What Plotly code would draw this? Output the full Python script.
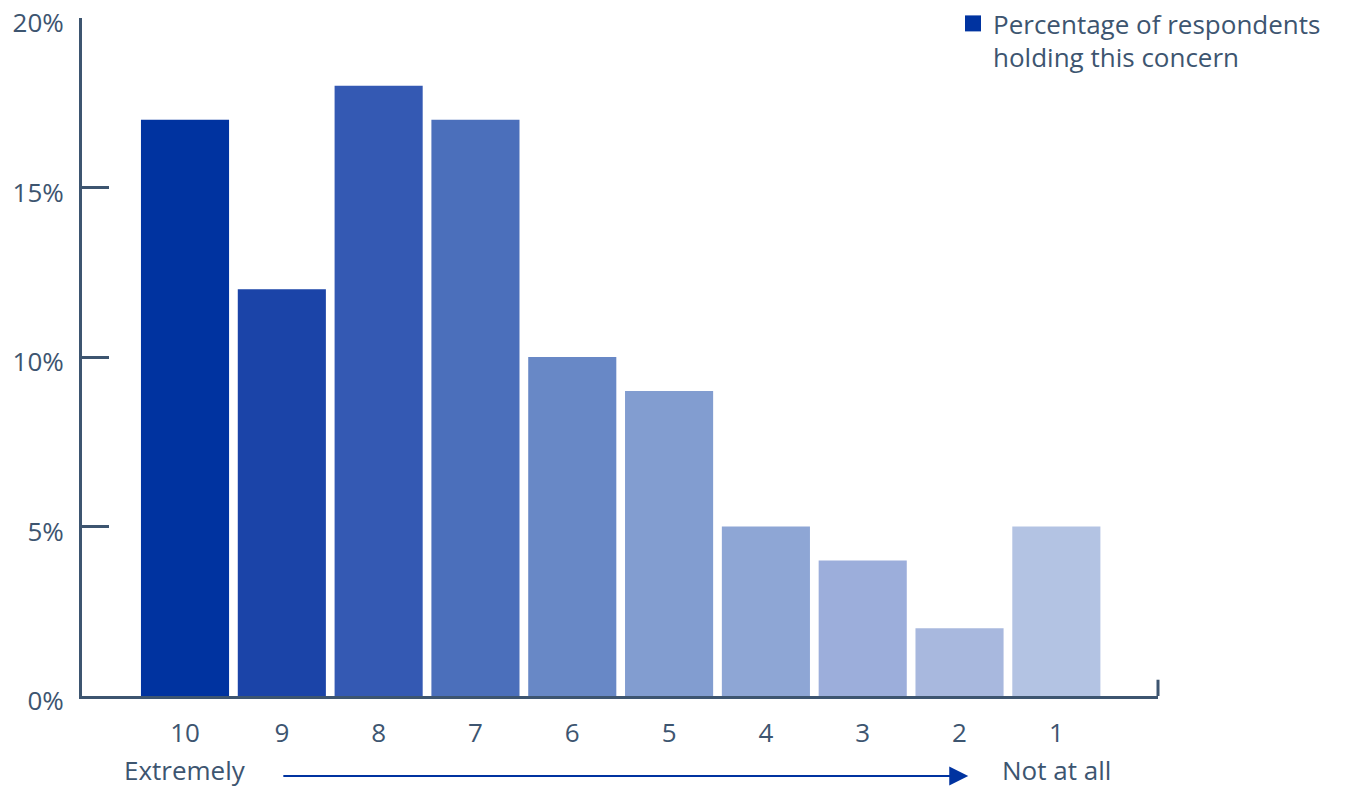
import plotly.graph_objects as go

# Concern scale, from 10 (extremely concerned) down to 1 (not at all)
categories = ["10", "9", "8", "7", "6", "5", "4", "3", "2", "1"]
percent = [17, 12, 18, 17, 10, 9, 5, 4, 2, 5]
bar_colors = ["#0033a0", "#1b44a8", "#3459b3", "#4b6fbb", "#6888c6",
              "#829dd0", "#8ea6d5", "#9caedb", "#a8b8de", "#b3c3e3"]
y_ticks = [0, 5, 10, 15, 20]
y_tick_text = ["0%", "5%", "10%", "15%", "20%"]
legend_label = "Percentage of respondents<br>holding this concern"

TEXT = "#3d5570"
FONT = "Open Sans"
FS = 26
WEIGHT = 500
x_pos = list(range(len(categories)))

fig = go.Figure()
fig.add_trace(go.Bar(
    x=x_pos, y=percent, marker=dict(color=bar_colors, line=dict(width=0)),
    width=0.91, showlegend=False, hoverinfo="y",
))
# legend entry with a solid square swatch
fig.add_trace(go.Scatter(
    x=[None], y=[None], mode="markers", name=legend_label,
    marker=dict(symbol="square", size=21, color="#0033a0"),
))

fig.update_layout(
    width=1369, height=787,
    margin=dict(l=82, r=211, t=18, b=91, autoexpand=False),
    paper_bgcolor="white", plot_bgcolor="white",
    font=dict(family=FONT, color=TEXT, size=FS, weight=WEIGHT),
    legend=dict(x=0.8095, y=1.0, xanchor="left", yanchor="top", yref="container",
                font=dict(size=FS, color=TEXT, weight=WEIGHT), itemsizing="trace",
                valign="top", bgcolor="rgba(0,0,0,0)"),
    bargap=0.09,
)
fig.update_xaxes(
    range=[-1.064, 10.05], tickvals=x_pos, ticktext=categories, automargin=False,
    showgrid=False, zeroline=False, showline=True, linecolor=TEXT, linewidth=3,
    ticks="", ticklabelstandoff=12, tickfont=dict(size=FS, color=TEXT, weight=WEIGHT),
)
fig.update_yaxes(
    range=[0, 20.001], tickvals=y_ticks, ticktext=y_tick_text, automargin=False,
    showgrid=False, zeroline=False, showline=True, linecolor=TEXT, linewidth=3,
    ticks="inside", ticklen=27, tickwidth=3, tickcolor=TEXT,
    ticklabelstandoff=10, ticklabelshift=5, tickfont=dict(size=FS, color=TEXT, weight=WEIGHT),
)

# end tick at the right end of the x axis
fig.add_shape(type="line", xref="paper", yref="paper", x0=1, x1=1, y0=0, y1=0.024,
              line=dict(color=TEXT, width=3))

# scale direction: Extremely -> Not at all
fig.add_annotation(x=8.09, y=-0.118, xref="x", yref="paper",
                   ax=1.0, ay=0, axref="x", ayref="pixel",
                   showarrow=True, arrowhead=2, arrowsize=1.9, arrowwidth=2,
                   arrowcolor="#0033a0", text="")
fig.add_annotation(x=0, y=-0.109, xref="x", yref="paper", text="Extremely",
                   xanchor="center", yanchor="middle",
                   showarrow=False, font=dict(size=FS, color=TEXT, weight=WEIGHT))
fig.add_annotation(x=9, y=-0.109, xref="x", yref="paper", text="Not at all",
                   xanchor="center", yanchor="middle",
                   showarrow=False, font=dict(size=FS, color=TEXT, weight=WEIGHT))

fig.write_html("out.html")
